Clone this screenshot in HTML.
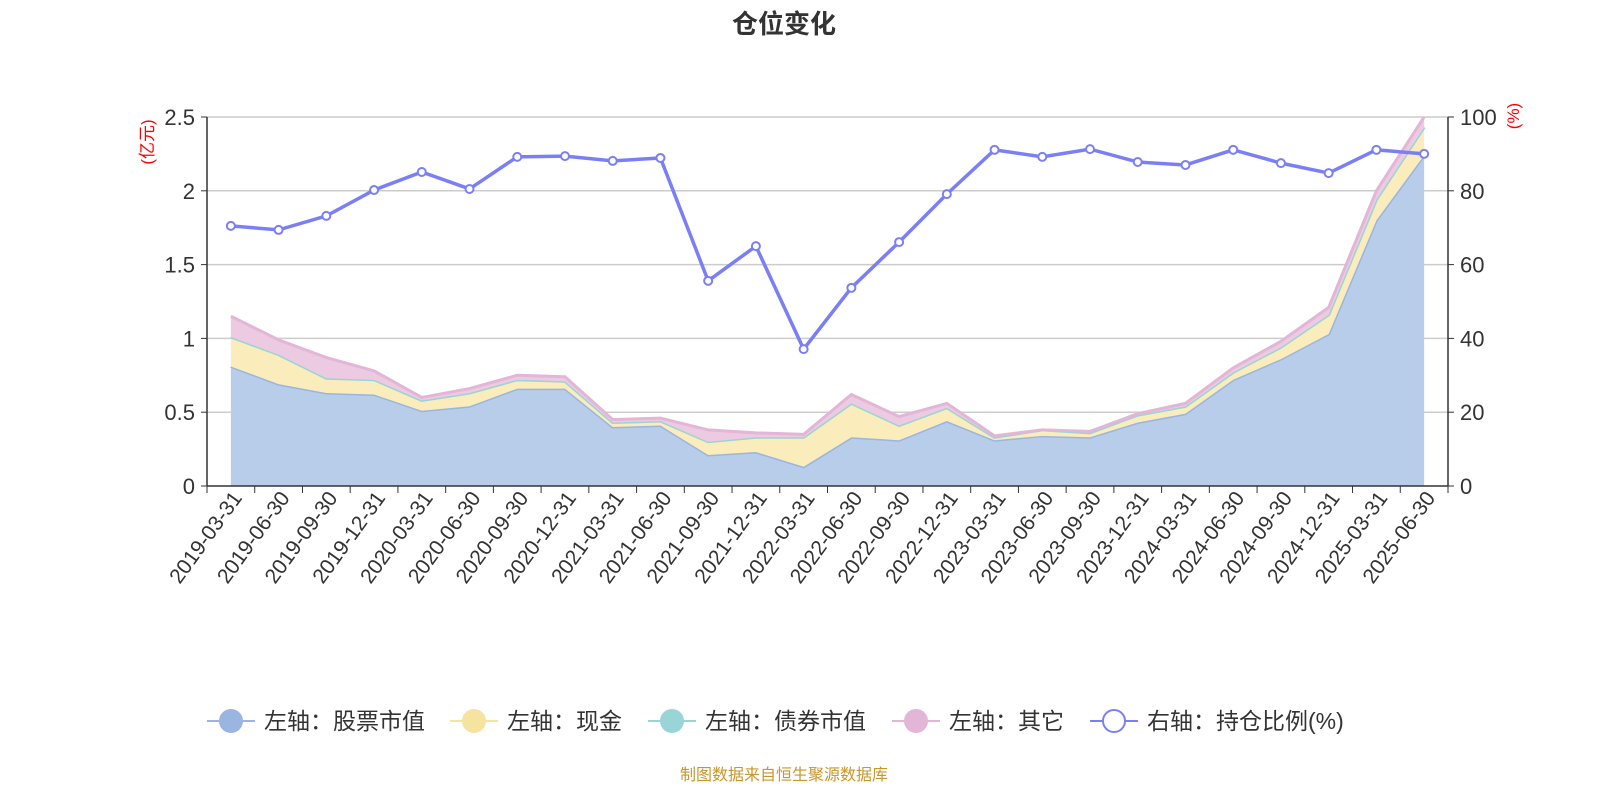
<!DOCTYPE html>
<html><head><meta charset="utf-8"><style>
body{margin:0;background:#fff;font-family:"Liberation Sans","Noto Sans CJK SC",sans-serif;}
svg text{font-family:"Liberation Sans","Noto Sans CJK SC",sans-serif;}
</style></head><body>
<svg id="c" width="1600" height="800" xmlns="http://www.w3.org/2000/svg">
<text x="784" y="33" text-anchor="middle" font-size="26" font-weight="bold" fill="#333">仓位变化</text>
<text x="784" y="780" text-anchor="middle" font-size="16" fill="#c8962a">制图数据来自恒生聚源数据库</text>
<g id="grid"></g><g id="areas"></g><g id="axes"></g><g id="ratio"></g><g id="legend"></g>
</svg>
<script>
const categories=["2019-03-31","2019-06-30","2019-09-30","2019-12-31","2020-03-31","2020-06-30","2020-09-30","2020-12-31","2021-03-31","2021-06-30","2021-09-30","2021-12-31","2022-03-31","2022-06-30","2022-09-30","2022-12-31","2023-03-31","2023-06-30","2023-09-30","2023-12-31","2024-03-31","2024-06-30","2024-09-30","2024-12-31","2025-03-31","2025-06-30"];
const stock=[0.81,0.69,0.63,0.62,0.51,0.54,0.66,0.66,0.40,0.41,0.21,0.23,0.13,0.33,0.31,0.44,0.31,0.34,0.33,0.43,0.49,0.72,0.86,1.03,1.80,2.24];
const cash=[0.20,0.20,0.10,0.10,0.07,0.09,0.06,0.05,0.03,0.03,0.09,0.10,0.20,0.23,0.10,0.09,0.02,0.04,0.03,0.05,0.05,0.05,0.08,0.13,0.14,0.19];
const bond=[0,0,0,0,0,0,0,0,0,0,0,0,0,0,0,0,0,0,0,0,0,0,0,0,0,0];
const other=[0.14,0.10,0.14,0.06,0.02,0.03,0.03,0.03,0.02,0.02,0.08,0.03,0.02,0.06,0.06,0.03,0.01,0,0.01,0.01,0.02,0.03,0.04,0.05,0.06,0.07];
const ratio=[70.5,69.4,73.2,80.2,85.1,80.5,89.2,89.4,88.1,88.9,55.6,65.0,37.1,53.7,66.1,79.1,91.1,89.2,91.3,87.8,87.0,91.1,87.5,84.8,91.1,90.0];
const leftTicks=[0,0.5,1,1.5,2,2.5];
const leftLabels=["0","0.5","1","1.5","2","2.5"];
const rightTicks=[0,20,40,60,80,100];

const X0=207,X1=1448,YT=117,YB=486,N=categories.length,bw=(X1-X0)/N;
const xp=i=>X0+bw*(i+0.5);
const yl=v=>YB-(v/2.5)*(YB-YT);
const yr=v=>YB-(v/100)*(YB-YT);
const NS="http://www.w3.org/2000/svg";
function mk(t,parent,attrs){const e=document.createElementNS(NS,t);for(const k in attrs)e.setAttribute(k,attrs[k]);parent.appendChild(e);return e;}
const G=id=>document.getElementById(id);

leftTicks.forEach((v,i)=>{
  if(v>0){const l=mk('line',G('grid'),{x1:X0,x2:X1,y1:yl(v),y2:yl(v),stroke:'#ccc','stroke-width':1.5});
  
  }
  const t=mk('text',G('axes'),{x:X0-12,y:yl(v)+8,'text-anchor':'end','font-size':22,fill:'#333'});t.textContent=leftLabels[i];
  
  
  mk('line',G('axes'),{x1:X0-6,x2:X0,y1:yl(v),y2:yl(v),stroke:'#333'});
});
rightTicks.forEach(v=>{
  const t=mk('text',G('axes'),{x:X1+12,y:yr(v)+8,'font-size':22,fill:'#333'});t.textContent=v;
  
  
  mk('line',G('axes'),{x1:X1,x2:X1+6,y1:yr(v),y2:yr(v),stroke:'#333'});
});
mk('line',G('axes'),{x1:X0,x2:X0,y1:YT,y2:YB,stroke:'#333','stroke-width':1.5});
mk('line',G('axes'),{x1:X1,x2:X1,y1:YT,y2:YB,stroke:'#333','stroke-width':1.5});
mk('line',G('axes'),{x1:X0,x2:X1,y1:YB,y2:YB,stroke:'#333','stroke-width':1.5});
let ut=mk('text',G('axes'),{x:0,y:0,'font-size':17,fill:'red',transform:`translate(153,142) rotate(-90)`,'text-anchor':'middle'});ut.textContent='(亿元)';


let ur=mk('text',G('axes'),{x:0,y:0,'font-size':17,fill:'red',transform:`translate(1519,116) rotate(-90)`,'text-anchor':'middle'});ur.textContent='(%)';


for(let i=0;i<=N;i++)mk('line',G('axes'),{x1:X0+bw*i,x2:X0+bw*i,y1:YB,y2:YB+7,stroke:'#333'});
categories.forEach((c,i)=>{
  const t=mk('text',G('axes'),{x:0,y:0,'font-size':21,fill:'#333','text-anchor':'end',transform:`translate(${xp(i)+12},${YB+12}) rotate(-54)`});
  t.textContent=c;
  
  
});

const series=[{d:stock,fill:'#b8cdea',line:'#9ab5e0',name:'stock-area'},{d:cash,fill:'#fbecbb',line:'#f5e3a0',name:'cash-area'},{d:bond,fill:'#99d5d6',line:'#99d5d6',name:'bond-area'},{d:other,fill:'#eccbe2',line:'#e3b5d6',name:'other-area'}];
let base=new Array(N).fill(0);
series.forEach(s=>{
  const top=base.map((b,i)=>b+s.d[i]);
  let p='M'+top.map((v,i)=>xp(i)+','+yl(v)).join('L');
  for(let i=N-1;i>=0;i--)p+='L'+xp(i)+','+yl(base[i]);
  const a=mk('path',G('areas'),{d:p+'Z',fill:s.fill});
  
  
  const l=mk('polyline',G('areas'),{points:top.map((v,i)=>xp(i)+','+yl(v)).join(' '),fill:'none',stroke:s.line,'stroke-width':3});
  
  
  base=top;
});
const rl=mk('polyline',G('ratio'),{points:ratio.map((v,i)=>xp(i)+','+yr(v)).join(' '),fill:'none',stroke:'#7b7ff5','stroke-width':3.5});


ratio.forEach((v,i)=>{
  const c=mk('circle',G('ratio'),{cx:xp(i),cy:yr(v),r:4,fill:'#fff',stroke:'#7b7ff5','stroke-width':2});
  
  
});

const leg=[{x:207,c:'#9ab5e0',t:'左轴：股票市值',f:true},{x:450,c:'#f5e3a0',t:'左轴：现金',f:true},{x:648,c:'#99d5d6',t:'左轴：债券市值',f:true},{x:892,c:'#e3b5d6',t:'左轴：其它',f:true},{x:1090,c:'#7b7ff5',t:'右轴：持仓比例(%)',f:false}];
leg.forEach(l=>{
  const g=mk('g',G('legend'),{});
  
  
  mk('line',g,{x1:l.x,x2:l.x+48,y1:721,y2:721,stroke:l.c,'stroke-width':2});
  mk('circle',g,{cx:l.x+24,cy:721,r:11,fill:l.f?l.c:'#fff',stroke:l.c,'stroke-width':2});
  const t=mk('text',g,{x:l.x+57,y:729,'font-size':23,fill:'#333'});t.textContent=l.t;
});
</script>
</body></html>
